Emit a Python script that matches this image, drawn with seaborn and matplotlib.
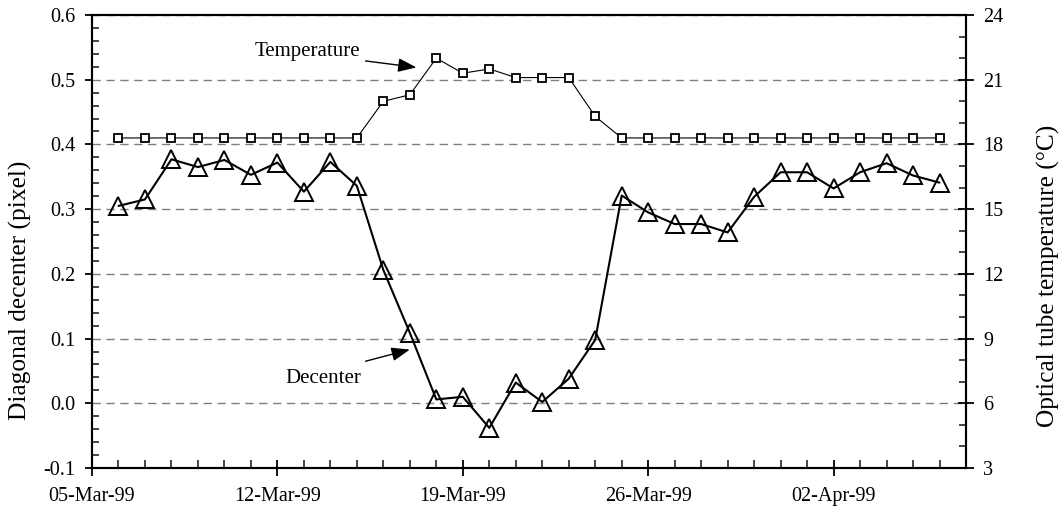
import numpy as np
import pandas as pd
import matplotlib
matplotlib.use("Agg")
import matplotlib.pyplot as plt
import matplotlib.dates as mdates
from matplotlib.ticker import MultipleLocator, FormatStrFormatter
import seaborn as sns

# ---- data ----
dates = pd.date_range("1999-03-06", "1999-04-06", freq="D")
decenter = [0.305, 0.315, 0.377, 0.365, 0.376, 0.353, 0.372, 0.327, 0.373, 0.336,
            0.206, 0.109, 0.006, 0.010, -0.038, 0.032, 0.002, 0.038, 0.098,
            0.321, 0.295, 0.277, 0.277, 0.264, 0.319, 0.357, 0.357, 0.332,
            0.357, 0.371, 0.352, 0.341]
temperature = [18.3, 18.3, 18.3, 18.3, 18.3, 18.3, 18.3, 18.3, 18.3, 18.3,
               20.0, 20.3, 22.0, 21.3, 21.5, 21.1, 21.1, 21.1, 19.3,
               18.3, 18.3, 18.3, 18.3, 18.3, 18.3, 18.3, 18.3, 18.3,
               18.3, 18.3, 18.3, 18.3]
major_dates = pd.date_range("1999-03-05", periods=5, freq="7D")
left_ticks = [-0.1, 0.0, 0.1, 0.2, 0.3, 0.4, 0.5, 0.6]
right_ticks = [3, 6, 9, 12, 15, 18, 21, 24]

df = pd.DataFrame({"date": dates, "decenter": decenter, "temperature": temperature})

sns.set_theme(style="white")
plt.rcParams['font.family'] = ['Liberation Serif', 'DejaVu Serif']
plt.rcParams['axes.unicode_minus'] = False

fig = plt.figure(figsize=(10.62, 5.08), dpi=100)
ax = fig.add_axes([92/1062, 1-468/508, (966-92)/1062, (468-15)/508])
ax2 = ax.twinx()

sns.lineplot(data=df, x="date", y="decenter", ax=ax, color="black", linewidth=1.5,
             marker="^", markersize=13.5, markerfacecolor="none",
             markeredgecolor="black", markeredgewidth=1.4)
sns.lineplot(data=df, x="date", y="temperature", ax=ax2, color="black", linewidth=0.8,
             marker="s", markersize=5.5, markerfacecolor="white",
             markeredgecolor="black", markeredgewidth=1.3)

ax.set_xlim(pd.Timestamp("1999-03-05"), pd.Timestamp("1999-04-07"))
ax.set_ylim(-0.1, 0.6)
ax2.set_ylim(3, 24)

ax.set_xticks(major_dates)
ax.xaxis.set_major_formatter(mdates.DateFormatter("%d-%b-%y"))
ax.xaxis.set_minor_locator(mdates.DayLocator())
ax.set_yticks(left_ticks)
ax.yaxis.set_major_formatter(FormatStrFormatter("%.1f"))
ax.yaxis.set_minor_locator(MultipleLocator(0.02))
ax2.set_yticks(right_ticks)
ax2.yaxis.set_minor_locator(MultipleLocator(1))

fs = 14.5
ax.tick_params(axis="x", which="major", direction="inout", length=12, width=1.3, labelsize=fs, pad=8, colors="black", bottom=True)
ax.tick_params(axis="x", which="minor", direction="in", length=6, width=1.2, bottom=True)
ax.tick_params(axis="y", which="major", direction="out", length=5, width=1.3, labelsize=fs, pad=7, colors="black", left=True)
ax.tick_params(axis="y", which="minor", direction="in", length=5, width=1.2, left=True)
ax2.tick_params(axis="y", which="major", direction="inout", length=11, width=1.3, labelsize=fs, pad=7, colors="black", right=True)
ax2.tick_params(axis="y", which="minor", direction="in", length=5, width=1.2, right=True)

for a in (ax, ax2):
    for s in a.spines.values():
        s.set_color("black")
        s.set_linewidth(1.5)

ax.yaxis.grid(True, linestyle=(0, (6, 4)), color="#7f7f7f", linewidth=1)
ax.xaxis.grid(False)
ax.set_axisbelow(True)

ax.set_xlabel("")
ax.set_ylabel("Diagonal decenter (pixel)", fontsize=18.3, color="black")
ax2.set_ylabel("Optical tube temperature (°C)", fontsize=18.3, color="black")
ax.yaxis.set_label_coords(-0.0686, 0.393)
ax2.yaxis.set_label_coords(1.081, 0.424)

base = pd.Timestamp("1999-03-05")
def dnum(d):
    return mdates.date2num(base + pd.Timedelta(days=d))

ax.text(dnum(8.13), 0.543, "Temperature", fontsize=15, ha="center", va="center", color="black")
ax.annotate("", xy=(dnum(12.25), 0.519), xytext=(dnum(10.33), 0.529),
            arrowprops=dict(arrowstyle="-|>,head_length=0.8,head_width=0.3",
                            color="black", lw=1, mutation_scale=14, shrinkA=0, shrinkB=0))
ax.text(dnum(8.74), 0.039, "Decenter", fontsize=15, ha="center", va="center", color="black")
ax.annotate("", xy=(dnum(12.0), 0.083), xytext=(dnum(10.33), 0.065),
            arrowprops=dict(arrowstyle="-|>,head_length=0.8,head_width=0.3",
                            color="black", lw=1, mutation_scale=14, shrinkA=0, shrinkB=0))

fig.savefig("out.png", dpi=100)
